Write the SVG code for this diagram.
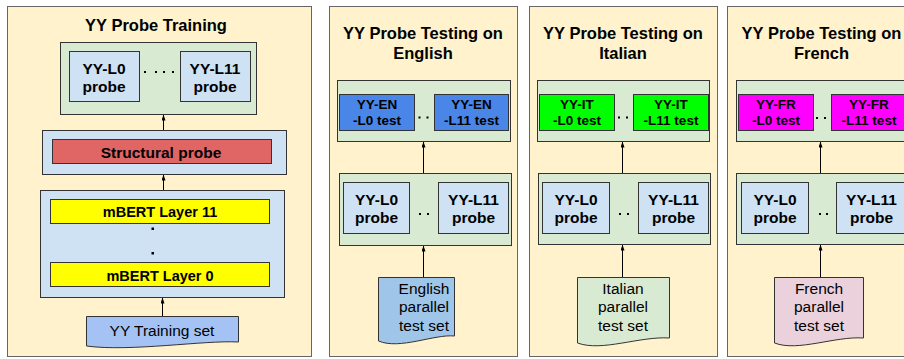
<svg xmlns="http://www.w3.org/2000/svg" width="904" height="359" viewBox="0 0 904 359">
<style>
.panel{fill:#fff2cc;stroke:#666;stroke-width:1}
.grp{fill:#d9ead3;stroke:#333;stroke-width:1}
.lb{fill:#cfe2f3;stroke:#333;stroke-width:1}
.t{font-family:"Liberation Sans",Arial,sans-serif;fill:#000;text-anchor:middle}
.title{font-size:16.5px;font-weight:bold}
.b{font-size:15.5px;font-weight:bold}
.s{font-size:13.5px;font-weight:bold}
.m{font-size:14.5px;font-weight:bold}
.n{font-size:15.5px}
.dot{fill:#000}
.conn{stroke:#000;stroke-width:1;fill:none;marker-end:url(#ah)}
</style>
<defs>
<marker id="ah" viewBox="0 0 6 4" refX="5.5" refY="2" markerWidth="6" markerHeight="4" orient="auto" markerUnits="userSpaceOnUse">
<path d="M0,0 L6,2 L0,4 Z" fill="#000"/>
</marker>
</defs>

<!-- Panel 1 -->
<g id="panel-training">
<rect class="panel" x="7.5" y="6.5" width="304" height="350"/>
<text class="t title" x="156" y="31">YY Probe Training</text>
</g>
<g id="train-probes">
<rect class="grp" x="60.5" y="42.5" width="196" height="72"/>
<rect class="lb" x="69.5" y="51.5" width="70" height="50"/>
<text class="t b" x="104" y="74">YY-L0</text>
<text class="t b" x="104" y="92">probe</text>
<rect class="lb" x="180.5" y="51.5" width="70" height="50"/>
<text class="t b" x="215" y="74">YY-L11</text>
<text class="t b" x="215" y="92">probe</text>
<rect class="dot" x="144" y="71" width="2" height="2"/>
<rect class="dot" x="155" y="71" width="2" height="2"/>
<rect class="dot" x="163" y="71" width="2" height="2"/>
<rect class="dot" x="172" y="71" width="2" height="2"/>
</g>
<g id="structural">
<rect class="lb" x="42.5" y="130.5" width="244" height="44"/>
<rect x="52.5" y="139.5" width="219" height="24" fill="#e06666" stroke="#333"/>
<text class="t b" x="161" y="157.5">Structural probe</text>
</g>
<g id="mbert">
<rect class="lb" x="40.5" y="190.5" width="244" height="107"/>
<rect x="50.5" y="199.5" width="219" height="24" fill="#ffff00" stroke="#333"/>
<text class="t m" x="160" y="217">mBERT Layer 11</text>
<rect x="50.5" y="262.5" width="219" height="24" fill="#ffff00" stroke="#333"/>
<text class="t m" x="160" y="280.5">mBERT Layer 0</text>
<rect class="dot" x="151.5" y="227.5" width="2.5" height="2.5"/>
<rect class="dot" x="151.5" y="252" width="2.5" height="2.5"/>
</g>
<g id="train-set">
<path d="M86.5,316.5 H238.5 V342 C205,340 130,352 86.5,346 Z" fill="#a4c2f4" stroke="#333"/>
<text class="t n" x="162" y="335.5">YY Training set</text>
</g>

<!-- Panel 2 -->
<g id="panel-en">
<rect class="panel" x="329.5" y="6.5" width="188" height="350"/>
<text class="t title" x="423" y="39">YY Probe Testing on</text>
<text class="t title" x="423" y="59">English</text>
</g>
<g id="en-tests">
<rect class="grp" x="337.5" y="80.5" width="173" height="61"/>
<rect x="339.5" y="94.5" width="75" height="36" fill="#4a86e8" stroke="#333"/>
<text class="t s" x="377" y="109">YY-EN</text>
<text class="t s" x="377" y="125">-L0 test</text>
<rect x="434.5" y="94.5" width="74" height="36" fill="#4a86e8" stroke="#333"/>
<text class="t s" x="471.5" y="109">YY-EN</text>
<text class="t s" x="471.5" y="125">-L11 test</text>
<rect class="dot" x="418.5" y="116.5" width="2" height="2"/>
<rect class="dot" x="426.5" y="116.5" width="2" height="2"/>
</g>
<g id="en-probes">
<rect class="grp" x="339.5" y="173.5" width="172" height="72"/>
<rect class="lb" x="343.5" y="182.5" width="66" height="51"/>
<text class="t b" x="376.5" y="204.5">YY-L0</text>
<text class="t b" x="376.5" y="222.5">probe</text>
<rect class="lb" x="438.5" y="182.5" width="70" height="51"/>
<text class="t b" x="473.5" y="204.5">YY-L11</text>
<text class="t b" x="473.5" y="222.5">probe</text>
<rect class="dot" x="419" y="213" width="2" height="2"/>
<rect class="dot" x="427" y="213" width="2" height="2"/>
</g>
<g id="en-set">
<path d="M378.5,277.5 H454.5 V336 C434,334 400,350 378.5,341 Z" fill="#9fc5e8" stroke="#333"/>
<text class="t n" x="424" y="293.5">English</text>
<text class="t n" x="424" y="312">parallel</text>
<text class="t n" x="424" y="330.5">test set</text>
</g>

<!-- Panel 3 -->
<g id="panel-it">
<rect class="panel" x="529.5" y="6.5" width="188" height="350"/>
<text class="t title" x="623" y="39">YY Probe Testing on</text>
<text class="t title" x="623" y="59">Italian</text>
</g>
<g id="it-tests">
<rect class="grp" x="537.5" y="80.5" width="172" height="61"/>
<rect x="539.5" y="94.5" width="75" height="36" fill="#00ff00" stroke="#333"/>
<text class="t s" x="577" y="109">YY-IT</text>
<text class="t s" x="577" y="125">-L0 test</text>
<rect x="633.5" y="94.5" width="75" height="36" fill="#00ff00" stroke="#333"/>
<text class="t s" x="671" y="109">YY-IT</text>
<text class="t s" x="671" y="125">-L11 test</text>
<rect class="dot" x="618" y="116.5" width="2" height="2"/>
<rect class="dot" x="626" y="116.5" width="2" height="2"/>
</g>
<g id="it-probes">
<rect class="grp" x="538.5" y="173.5" width="172" height="71"/>
<rect class="lb" x="542.5" y="182.5" width="67" height="51"/>
<text class="t b" x="576" y="204.5">YY-L0</text>
<text class="t b" x="576" y="222.5">probe</text>
<rect class="lb" x="638.5" y="182.5" width="70" height="51"/>
<text class="t b" x="673.5" y="204.5">YY-L11</text>
<text class="t b" x="673.5" y="222.5">probe</text>
<rect class="dot" x="619" y="213" width="2" height="2"/>
<rect class="dot" x="627" y="213" width="2" height="2"/>
</g>
<g id="it-set">
<path d="M577.5,277.5 H669.5 V338 C640,336 602,352 577.5,343 Z" fill="#d9ead3" stroke="#333"/>
<text class="t n" x="623" y="293.5">Italian</text>
<text class="t n" x="623" y="312">parallel</text>
<text class="t n" x="623" y="330.5">test set</text>
</g>

<!-- Panel 4 -->
<g id="panel-fr">
<rect class="panel" x="727.5" y="6.5" width="188" height="350"/>
<text class="t title" x="821.5" y="39">YY Probe Testing on</text>
<text class="t title" x="821.5" y="59">French</text>
</g>
<g id="fr-tests">
<rect class="grp" x="736.5" y="80.5" width="172" height="61"/>
<rect x="738.5" y="94.5" width="75" height="36" fill="#ff00ff" stroke="#333"/>
<text class="t s" x="776" y="109">YY-FR</text>
<text class="t s" x="776" y="125">-L0 test</text>
<rect x="831.5" y="94.5" width="75" height="36" fill="#ff00ff" stroke="#333"/>
<text class="t s" x="869" y="109">YY-FR</text>
<text class="t s" x="869" y="125">-L11 test</text>
<rect class="dot" x="816" y="117" width="2" height="2"/>
<rect class="dot" x="824" y="117" width="2" height="2"/>
</g>
<g id="fr-probes">
<rect class="grp" x="736.5" y="173.5" width="172" height="71"/>
<rect class="lb" x="741.5" y="182.5" width="67" height="51"/>
<text class="t b" x="775" y="204.5">YY-L0</text>
<text class="t b" x="775" y="222.5">probe</text>
<rect class="lb" x="836.5" y="182.5" width="70" height="51"/>
<text class="t b" x="871.5" y="204.5">YY-L11</text>
<text class="t b" x="871.5" y="222.5">probe</text>
<rect class="dot" x="819" y="213" width="2" height="2"/>
<rect class="dot" x="826" y="213" width="2" height="2"/>
</g>
<g id="fr-set">
<path d="M774.5,277.5 H863.5 V338 C835,336 798,352 774.5,343 Z" fill="#ead1dc" stroke="#333"/>
<text class="t n" x="819" y="293.5">French</text>
<text class="t n" x="819" y="312">parallel</text>
<text class="t n" x="819" y="330.5">test set</text>
</g>

<g id="connectors">
<line class="conn" x1="163.5" y1="130" x2="163.5" y2="115"/>
<line class="conn" x1="163.5" y1="190" x2="163.5" y2="175"/>
<line class="conn" x1="162.5" y1="316" x2="162.5" y2="298"/>
<line class="conn" x1="423.5" y1="173" x2="423.5" y2="142"/>
<line class="conn" x1="423.5" y1="277" x2="423.5" y2="246"/>
<line class="conn" x1="622.5" y1="173" x2="622.5" y2="142"/>
<line class="conn" x1="622.5" y1="277" x2="622.5" y2="245"/>
<line class="conn" x1="820.5" y1="173" x2="820.5" y2="142"/>
<line class="conn" x1="820.5" y1="277" x2="820.5" y2="245"/>
</g>
</svg>
